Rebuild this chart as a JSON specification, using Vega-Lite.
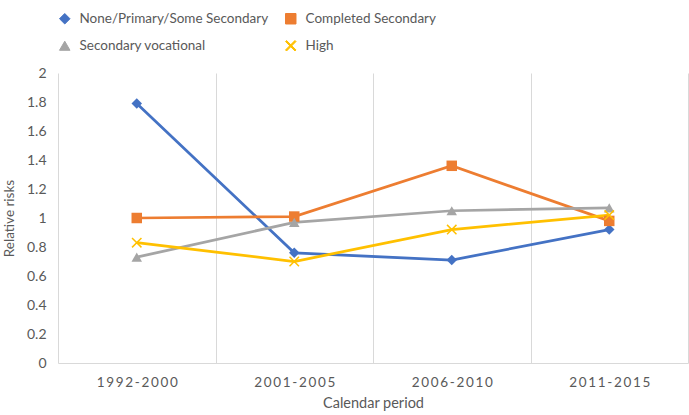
{
  "$schema": "https://vega.github.io/schema/vega-lite/v6.json",
  "width": 630,
  "height": 290,
  "autosize": {"type": "none"},
  "padding": {"left": 58, "top": 73, "right": 1, "bottom": 52},
  "config": {
    "view": {"stroke": null},
    "font": "Lato",
    "legend": {
      "orient": "top",
      "columns": 2,
      "offset": 20,
      "labelFontSize": 13.5,
      "labelColor": "#595959",
      "labelLimit": 400,
      "labelOffset": 8,
      "columnPadding": 14,
      "rowPadding": 12,
      "symbolOpacity": 1,
      "symbolSize": 110,
      "symbolStrokeWidth": 1
    }
  },
  "data": {
    "values": [
      {"period": "1992-2000", "group": "None/Primary/Some Secondary", "rr": 1.79},
      {"period": "2001-2005", "group": "None/Primary/Some Secondary", "rr": 0.76},
      {"period": "2006-2010", "group": "None/Primary/Some Secondary", "rr": 0.71},
      {"period": "2011-2015", "group": "None/Primary/Some Secondary", "rr": 0.92},
      {"period": "1992-2000", "group": "Completed Secondary", "rr": 1.0},
      {"period": "2001-2005", "group": "Completed Secondary", "rr": 1.01},
      {"period": "2006-2010", "group": "Completed Secondary", "rr": 1.36},
      {"period": "2011-2015", "group": "Completed Secondary", "rr": 0.98},
      {"period": "1992-2000", "group": "Secondary vocational", "rr": 0.73},
      {"period": "2001-2005", "group": "Secondary vocational", "rr": 0.97},
      {"period": "2006-2010", "group": "Secondary vocational", "rr": 1.05},
      {"period": "2011-2015", "group": "Secondary vocational", "rr": 1.07},
      {"period": "1992-2000", "group": "High", "rr": 0.83},
      {"period": "2001-2005", "group": "High", "rr": 0.7},
      {"period": "2006-2010", "group": "High", "rr": 0.92},
      {"period": "2011-2015", "group": "High", "rr": 1.02}
    ]
  },
  "encoding": {
    "x": {
      "field": "period",
      "type": "nominal",
      "sort": null,
      "scale": {"type": "band", "paddingInner": 0, "paddingOuter": 0},
      "axis": {
        "title": "Calendar period",
        "titleFontSize": 14.5,
        "titleFontWeight": "normal",
        "titleColor": "#595959",
        "titlePadding": 8,
        "labelAngle": 0,
        "labelFontSize": 13.5,
        "labelColor": "#595959",
        "labelPadding": 12,
        "labelExpr": "join(split(datum.label, ''), '\u2009')",
        "ticks": false,
        "tickBand": "extent",
        "grid": true,
        "gridColor": "#d9d9d9",
        "domainColor": "#d9d9d9"
      }
    },
    "y": {
      "field": "rr",
      "type": "quantitative",
      "scale": {"domain": [0, 2]},
      "axis": {
        "title": "Relative risks",
        "titleFontSize": 13.5,
        "titleFontWeight": "normal",
        "titleColor": "#595959",
        "titlePadding": 10,
        "values": [0, 0.2, 0.4, 0.6, 0.8, 1, 1.2, 1.4, 1.6, 1.8, 2],
        "format": ".1~f",
        "labelFontSize": 14,
        "labelColor": "#595959",
        "labelPadding": 12,
        "ticks": false,
        "domain": false,
        "grid": false
      }
    },
    "color": {
      "field": "group",
      "type": "nominal",
      "scale": {
        "domain": ["None/Primary/Some Secondary", "Completed Secondary", "Secondary vocational", "High"],
        "range": ["#4472c4", "#ed7d31", "#a5a5a5", "#ffc000"]
      },
      "legend": {"title": null}
    }
  },
  "layer": [
    {"mark": {"type": "line", "strokeWidth": 2.75}},
    {
      "mark": {"type": "point", "filled": true, "opacity": 1, "size": 110},
      "encoding": {
        "shape": {
          "field": "group",
          "type": "nominal",
          "scale": {
            "domain": ["None/Primary/Some Secondary", "Completed Secondary", "Secondary vocational", "High"],
            "range": [
              "diamond",
              "square",
              "triangle-up",
              "M-0.8,-1L1,0.8L0.8,1L-1,-0.8Z M0.8,-1L1,-0.8L-0.8,1L-1,0.8Z"
            ]
          },
          "legend": {"title": null}
        }
      }
    }
  ]
}
